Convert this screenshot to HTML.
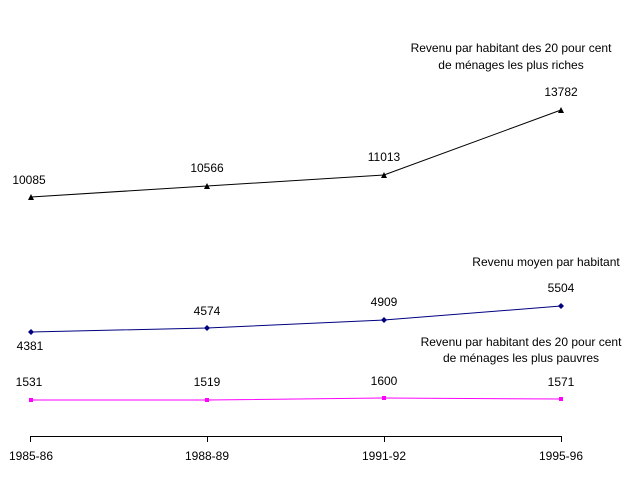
<!DOCTYPE html>
<html><head><style>
body{margin:0;background:#fff;}
svg text{font-family:"Liberation Sans",Arial,sans-serif;font-size:12px;fill:#000;}
</style></head><body>
<svg width="636" height="475" xmlns="http://www.w3.org/2000/svg">
<line x1="30" y1="436.5" x2="562" y2="436.5" stroke="#000" stroke-width="1"/>
<g stroke="#000"><line x1="30.5" y1="436" x2="30.5" y2="442"/><line x1="207.5" y1="436" x2="207.5" y2="442"/><line x1="384.5" y1="436" x2="384.5" y2="442"/><line x1="561.5" y1="436" x2="561.5" y2="442"/></g>
<g text-anchor="middle">
<text x="31" y="460">1985-86</text><text x="207" y="460">1988-89</text><text x="384" y="460">1991-92</text><text x="561" y="460">1995-96</text>
</g>
<polyline points="31,197 207,186 384,175 561,110" fill="none" stroke="#000" stroke-width="1"/>
<g fill="#000"><polygon points="31,194 28,200 34,200"/><polygon points="207,183 204,189 210,189"/><polygon points="384,172 381,178 387,178"/><polygon points="561,107 558,113 564,113"/></g>
<polyline points="31,332 207,328 384,320 561,306" fill="none" stroke="#000080" stroke-width="1"/>
<g fill="#000080"><polygon points="31,329 34,332 31,335 28,332"/><polygon points="207,325 210,328 207,331 204,328"/><polygon points="384,317 387,320 384,323 381,320"/><polygon points="561,303 564,306 561,309 558,306"/></g>
<polyline points="31,400 207,400 384,398 561,399" fill="none" stroke="#ff00ff" stroke-width="1"/>
<g fill="#ff00ff"><rect x="29" y="398" width="4" height="4"/><rect x="205" y="398" width="4" height="4"/><rect x="382" y="396" width="4" height="4"/><rect x="559" y="397" width="4" height="4"/></g>
<g text-anchor="middle">
<text x="29" y="184">10085</text><text x="207" y="172">10566</text><text x="384" y="161">11013</text><text x="561" y="96">13782</text>
<text x="30" y="350">4381</text><text x="207" y="315">4574</text><text x="384" y="306">4909</text><text x="561" y="292">5504</text>
<text x="29" y="386">1531</text><text x="207" y="386">1519</text><text x="384" y="385">1600</text><text x="561" y="386">1571</text>
<text x="511" y="52">Revenu par habitant des 20 pour cent</text>
<text x="511" y="69">de ménages les plus riches</text>
<text x="546" y="266">Revenu moyen par habitant</text>
<text x="521" y="346">Revenu par habitant des 20 pour cent</text>
<text x="521" y="362">de ménages les plus pauvres</text>
</g>
</svg>
</body></html>
